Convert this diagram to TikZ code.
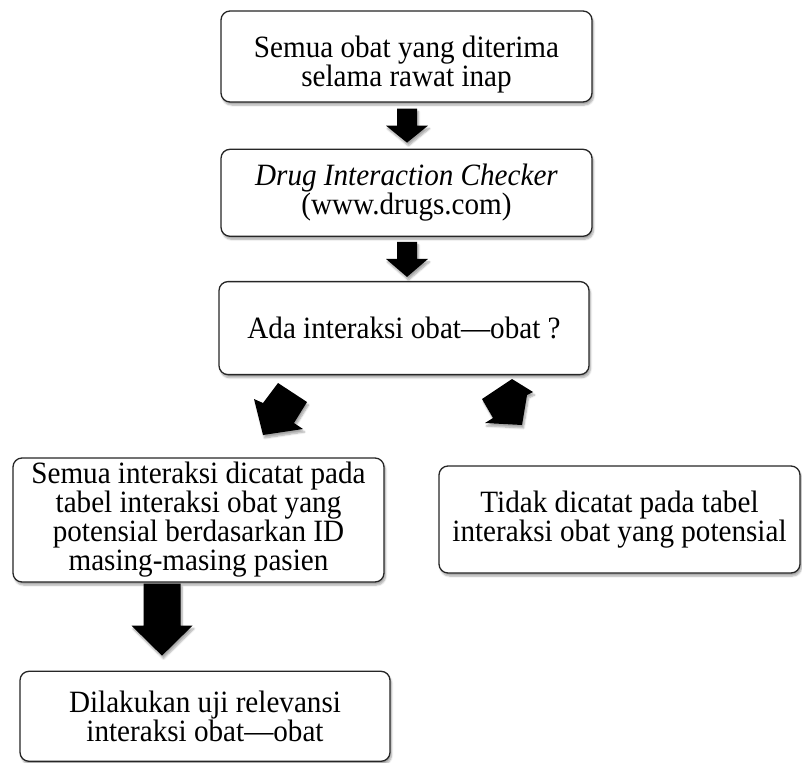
\documentclass[tikz,border=0pt]{standalone}
\usepackage{fontspec}
\setmainfont{Liberation Serif}[FakeStretch=0.94]
\usetikzlibrary{positioning,shadows.blur}
\setlength{\lineskiplimit}{-20pt}

\tikzset{
  bayang/.style={blur shadow={shadow xshift=1.5pt, shadow yshift=-3pt,
      shadow blur steps=6, shadow opacity=35}},
  box/.style={draw=black!85, line width=1.3pt, rounded corners=9pt, fill=white,
      align=center, inner sep=2pt, minimum width=371pt,
      font=\fontsize{31}{29}\selectfont, bayang},
  blokpanah/.style={fill=black, bayang},
  pics/turun/.style n args={4}{code={
      \path[blokpanah] (-#1,0) -- (#1,0) -- (#1,#3) -- (#2,#3) -- (0,#4)
          -- (-#2,#3) -- (-#1,#3) -- cycle;
  }}
}

\begin{document}
\begin{tikzpicture}[x=1pt, y=-1pt]
\useasboundingbox (0,0) rectangle (802,762);
%%% alur pemeriksaan interaksi obat %%%

  \node[box, minimum height=91pt, text height=61pt, text depth=0pt] (semua) at (406.5,56.5)
      {Semua obat yang diterima\\selama rawat inap};
  \node[box, minimum height=87pt, below=46pt of semua] (checker)
      {\textit{Drug Interaction Checker}\\(www.drugs.com)};
  \node[box, minimum height=93pt, minimum width=370pt, below=44pt of checker, xshift=-2.5pt] (ada)
      {Ada interaksi obat---obat ?};
  %% cabang ya / tidak
  \node[box, minimum height=124pt] (catat) at (198.5,520)
      {Semua interaksi dicatat pada\\tabel interaksi obat yang\\potensial berdasarkan ID\\masing-masing pasien};
  \node[box, minimum height=107pt, minimum width=361pt] (tidak) at (619.5,519.5)
      {Tidak dicatat pada tabel\\interaksi obat yang potensial};
  \node[box, minimum height=90pt, minimum width=370pt, below=88pt of catat, xshift=6.5pt] (uji)
      {Dilakukan uji relevansi\\interaksi obat---obat};

  %% panah blok
  \path (semua.south) ++(0.5,6) pic {turun={10}{21}{17}{34}};
  \path (checker.south) ++(0.5,5) pic {turun={10}{21}{17}{35}};
  \path (catat.south) ++(-36.5,1) pic {turun={18.5}{30.5}{42}{72}};

  \path[blokpanah] (278,383) -- (307,402) -- (294,423) -- (303,429)
      -- (263,435) -- (254,399) -- (263,403) -- cycle;
  \path[blokpanah] (512,379) -- (533,392) -- (527,395) -- (522,425)
      -- (485,423) -- (493,418) -- (482,399) -- cycle;

\end{tikzpicture}
\end{document}
